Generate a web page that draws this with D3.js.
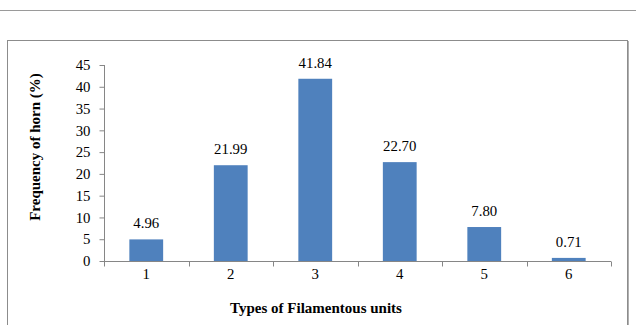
<!DOCTYPE html>
<html><head><meta charset="utf-8">
<script src="https://cdn.jsdelivr.net/npm/d3@7"></script>
<style>body{margin:0;background:#fff}svg{display:block}</style>
</head><body>
<svg id="c" width="636" height="325"></svg>
<script>
const categories = ["1","2","3","4","5","6"];
const values = [4.96, 21.99, 41.84, 22.70, 7.80, 0.71];
const valueLabels = ["4.96","21.99","41.84","22.70","7.80","0.71"];
const yTicks = [0,5,10,15,20,25,30,35,40,45];

(function(){
const svg = d3.select("#c");
const font = "'Liberation Serif','Times New Roman',serif";
const fs = 14.8;

svg.append("line").attr("x1",0).attr("x2",636).attr("y1",10.5).attr("y2",10.5)
  .attr("stroke","#9a9a9a").attr("stroke-width",1);
svg.append("rect").attr("x",7.5).attr("y",40.5).attr("width",620).attr("height",300)
  .attr("fill","none").attr("stroke","#8c8c8c").attr("stroke-width",1);
svg.append("line").attr("x1",628.5).attr("x2",628.5).attr("y1",41).attr("y2",325)
  .attr("stroke","#b0b0b0").attr("stroke-width",1);

const pL = 104, pR = 611, pT = 65, pB = 261;
const x = d3.scaleBand().domain(categories).range([pL, pR]).paddingInner(0.6).paddingOuter(0.3);
const xs = d3.scaleBand().domain(categories).range([pL, pR]);
const y = d3.scaleLinear().domain([0,45]).range([pB, pT]);

svg.selectAll("rect.bar").data(values).join("rect").attr("class","bar")
  .attr("x",(d,i)=>x(categories[i])).attr("width",x.bandwidth())
  .attr("y",d=>y(d)).attr("height",d=>pB-y(d))
  .attr("fill","#4F81BD");

svg.selectAll("text.val").data(values).join("text").attr("class","val")
  .attr("x",(d,i)=>x(categories[i])+x.bandwidth()/2)
  .attr("y",d=>y(d)-11)
  .attr("text-anchor","middle").attr("font-family",font).attr("font-size",fs)
  .attr("fill","#000").text((d,i)=>valueLabels[i]);

const ya = svg.append("g").attr("transform",`translate(${pL+0.5},0)`)
  .call(d3.axisLeft(y).tickValues(yTicks).tickSize(5).tickPadding(9));
ya.selectAll("text").attr("font-family",font).attr("font-size",fs).attr("fill","#000");
ya.selectAll("line,path").attr("stroke","#868686");
ya.select("path").attr("d",`M0,${pT}V${pB}`);

const xa = svg.append("g").attr("transform",`translate(0,${pB+0.5})`);
xa.append("line").attr("x1",pL).attr("x2",pR).attr("stroke","#868686");
const bounds = categories.map(c=>xs(c)).concat([pR]);
xa.selectAll("line.tk").data(bounds).join("line").attr("class","tk")
  .attr("x1",d=>Math.round(d)+0.5).attr("x2",d=>Math.round(d)+0.5).attr("y1",0).attr("y2",5)
  .attr("stroke","#868686");
xa.selectAll("text").data(categories).join("text")
  .attr("x",c=>xs(c)+xs.bandwidth()/2).attr("y",17)
  .attr("text-anchor","middle").attr("font-family",font).attr("font-size",fs)
  .attr("fill","#000").text(c=>c);

svg.append("text").attr("transform",`translate(40,147) rotate(-90)`)
  .attr("text-anchor","middle").attr("font-family",font).attr("font-size",15)
  .attr("font-weight","bold").text("Frequency of horn (%)");
svg.append("text").attr("x",316).attr("y",313)
  .attr("text-anchor","middle").attr("font-family",font).attr("font-size",15)
  .attr("font-weight","bold").text("Types of Filamentous units");
})();
</script>
</body></html>
